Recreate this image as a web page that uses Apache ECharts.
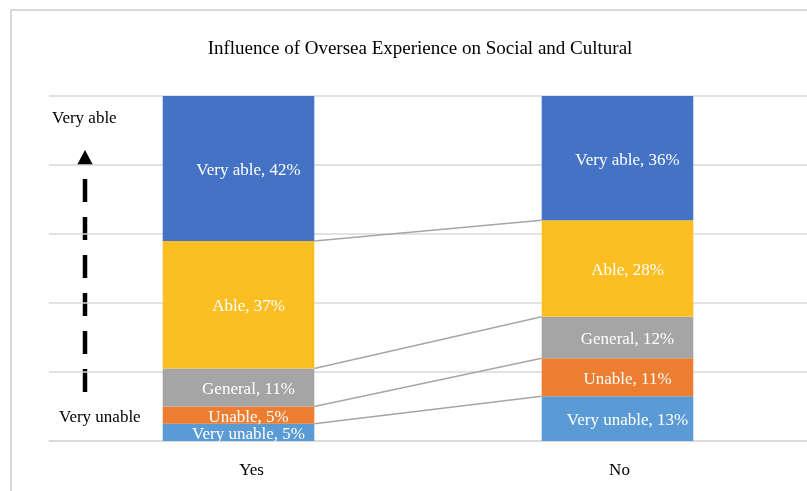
<!DOCTYPE html>
<html>
<head>
    <meta charset="utf-8">
    <title>Influence of Oversea Experience</title>
    <script src="https://cdn.jsdelivr.net/npm/echarts@6/dist/echarts.min.js"></script>
</head>
<body style="margin:0;background:#fff;">
<div id="main" style="width: 807px;height:491px;"></div>
<script type="text/javascript">

    /* data ===================== */
    var categories = ['Yes', 'No'];
    var levels = ['Very unable', 'Unable', 'General', 'Able', 'Very able'];
    var veryUnable = [5, 13];
    var unable = [5, 11];
    var general = [11, 12];
    var able = [37, 28];
    var veryAble = [42, 36];
    var colors = ['#5B9BD5', '#ED7D31', '#A5A5A5', '#FBBF24', '#4472C4'];

    var seriesValues = [veryUnable, unable, general, able, veryAble];

    // cumulative tops of the lower four levels, used for the connector lines
    var connectors = [];
    var cumYes = 0, cumNo = 0;
    for (var i = 0; i < 4; i++) {
        cumYes += seriesValues[i][0];
        cumNo += seriesValues[i][1];
        connectors.push([0, cumYes, cumNo]);
    }

    var serif = '"Liberation Serif", "Times New Roman", serif';

    var myChart = echarts.init(document.getElementById('main'));

    var series = levels.map(function (name, idx) {
        return {
            name: name,
            type: 'bar',
            stack: 'total',
            barWidth: '40%',
            data: seriesValues[idx],
            itemStyle: {color: colors[idx]},
            label: {
                show: true,
                position: 'inside',
                offset: [10, 2],
                formatter: '{a}, {c}%',
                color: '#fff',
                fontFamily: serif,
                fontSize: 17
            }
        };
    });

    // grey lines joining the same boundary on both bars
    series.push({
        type: 'custom',
        silent: true,
        z: 5,
        encode: {x: 0, y: [1, 2]},
        data: connectors,
        renderItem: function (params, api) {
            var p0 = api.coord([0, api.value(1)]);
            var p1 = api.coord([1, api.value(2)]);
            var half = api.size([1, 0])[0] * 0.2;
            return {
                type: 'line',
                shape: {x1: p0[0] + half, y1: p0[1], x2: p1[0] - half, y2: p1[1]},
                style: {stroke: '#a6a6a6', lineWidth: 1.5}
            };
        }
    });

    myChart.setOption({
        animation: false,
        title: {
            text: 'Influence of Oversea Experience on Social and Cultural',
            left: 415,
            textAlign: 'center',
            top: 35,
            textStyle: {
                fontFamily: serif,
                fontSize: 19,
                fontWeight: 'normal',
                color: '#000'
            }
        },
        grid: {
            left: 49,
            top: 96,
            width: 760,
            height: 345
        },
        xAxis: {
            type: 'category',
            data: [
                {value: categories[0], textStyle: {padding: [0, 0, 0, 26]}},
                {value: categories[1], textStyle: {padding: [0, 0, 0, 4]}}
            ],
            axisLine: {lineStyle: {color: '#d9d9d9', width: 1.5}},
            axisTick: {show: false},
            axisLabel: {
                margin: 21,
                color: '#000',
                fontFamily: serif,
                fontSize: 17
            }
        },
        yAxis: {
            type: 'value',
            min: 0,
            max: 100,
            interval: 20,
            axisLabel: {show: false},
            axisLine: {show: false},
            axisTick: {show: false},
            splitLine: {lineStyle: {color: '#d9d9d9', width: 1.5}}
        },
        graphic: [
            {
                type: 'rect',
                shape: {x: 11, y: 10, width: 900, height: 600},
                style: {fill: 'none', stroke: '#d9d9d9', lineWidth: 2},
                silent: true
            },
            {
                type: 'text',
                left: 52,
                top: 110,
                style: {text: 'Very able', font: '17px ' + serif, fill: '#000'}
            },
            {
                type: 'text',
                left: 59,
                top: 409,
                style: {text: 'Very unable', font: '17px ' + serif, fill: '#000'}
            },
            {
                type: 'polygon',
                shape: {points: [[85, 150], [77, 165], [93, 165]]},
                style: {fill: '#000'},
                silent: true
            },
            {
                type: 'line',
                shape: {x1: 85, y1: 179, x2: 85, y2: 392},
                style: {stroke: '#000', lineWidth: 4.5, lineDash: [23, 15]},
                silent: true
            }
        ],
        series: series
    });

</script>
</body>
</html>
